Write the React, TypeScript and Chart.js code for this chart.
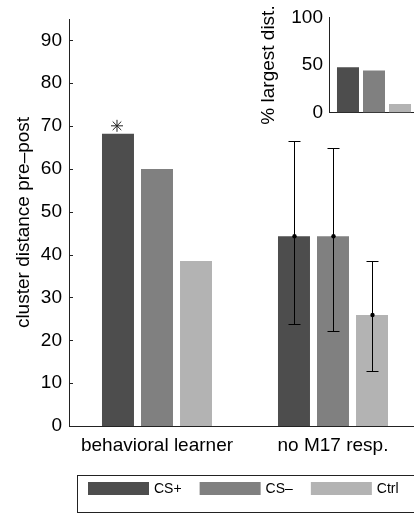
import React, { useEffect, useRef } from 'react';
import { Chart, registerables } from 'chart.js';

Chart.register(...registerables);

const FONT = "'Liberation Sans', Arial, Helvetica, sans-serif";

// ---------- main chart data ----------
const categories = ['behavioral learner', 'no M17 resp.'];
const seriesLabels = ['CS+', 'CS\u2013', 'Ctrl'];
const seriesColors = ['#4d4d4d', '#808080', '#b3b3b3'];

const csPlus = [68.2, 44.3];
const csMinus = [60.0, 44.3];
const ctrl = [38.5, 25.9];

const csPlusLow = [null, 23.7];
const csPlusHigh = [null, 66.6];
const csMinusLow = [null, 22.2];
const csMinusHigh = [null, 65.0];
const ctrlLow = [null, 12.8];
const ctrlHigh = [null, 38.6];

const csPlusStar = [true, false];
const csMinusStar = [false, false];
const ctrlStar = [false, false];

const yTicks = [0, 10, 20, 30, 40, 50, 60, 70, 80, 90];
const yMax = 95;

// ---------- inset data ----------
const insetCategories = [''];
const insetCsPlus = [47.6];
const insetCsMinus = [44.2];
const insetCtrl = [9.0];
const insetTicks = [0, 50, 100];

const errorBarsPlugin = {
  id: 'errorBars',
  afterDatasetsDraw(chart: any) {
    const { ctx } = chart;
    const yScale = chart.scales.y;
    chart.data.datasets.forEach((ds: any, i: number) => {
      const meta = chart.getDatasetMeta(i);
      meta.data.forEach((bar: any, j: number) => {
        const lo = ds.errLow ? ds.errLow[j] : null;
        const hi = ds.errHigh ? ds.errHigh[j] : null;
        ctx.save();
        if (lo != null && hi != null) {
          const x = Math.round(bar.x) + 0.5;
          const yl = Math.round(yScale.getPixelForValue(lo)) + 0.5;
          const yh = Math.round(yScale.getPixelForValue(hi)) + 0.5;
          ctx.strokeStyle = '#000';
          ctx.lineWidth = 1;
          ctx.beginPath();
          ctx.moveTo(x, yh);
          ctx.lineTo(x, yl);
          ctx.moveTo(x - 6, yh);
          ctx.lineTo(x + 6, yh);
          ctx.moveTo(x - 6, yl);
          ctx.lineTo(x + 6, yl);
          ctx.stroke();
          ctx.fillStyle = '#000';
          ctx.beginPath();
          ctx.arc(x, bar.y, 2.2, 0, Math.PI * 2);
          ctx.fill();
        }
        if (ds.star && ds.star[j]) {
          const cx = bar.x - 1;
          const cy = bar.y - 8;
          const r = 6;
          const d = 4.3;
          ctx.strokeStyle = '#222';
          ctx.lineWidth = 1;
          ctx.beginPath();
          ctx.moveTo(cx - r, cy);
          ctx.lineTo(cx + r, cy);
          ctx.moveTo(cx, cy - r);
          ctx.lineTo(cx, cy + r);
          ctx.moveTo(cx - d, cy - d);
          ctx.lineTo(cx + d, cy + d);
          ctx.moveTo(cx - d, cy + d);
          ctx.lineTo(cx + d, cy - d);
          ctx.stroke();
        }
        ctx.restore();
      });
    });
  },
};

const inwardTicksPlugin = {
  id: 'inwardTicks',
  afterDraw(chart: any, _args: any, opts: any) {
    if (!opts || !opts.length) return;
    const { ctx, chartArea } = chart;
    const yScale = chart.scales.y;
    ctx.save();
    ctx.strokeStyle = '#222';
    ctx.lineWidth = 1;
    ctx.beginPath();
    yScale.ticks.forEach((t: any) => {
      const y = Math.round(yScale.getPixelForValue(t.value)) + 0.5;
      ctx.moveTo(chartArea.left, y);
      ctx.lineTo(chartArea.left + opts.length, y);
    });
    ctx.stroke();
    ctx.restore();
  },
};

const boxLegendPlugin = {
  id: 'boxLegend',
  afterDraw(chart: any, _args: any, opts: any) {
    if (!opts || !opts.show) return;
    const { ctx } = chart;
    ctx.save();
    ctx.strokeStyle = '#222';
    ctx.lineWidth = 1;
    ctx.strokeRect(opts.left + 0.5, opts.top + 0.5, 600, opts.bottom - opts.top);
    ctx.font = `${opts.fontSize}px ${FONT}`;
    ctx.textBaseline = 'middle';
    ctx.textAlign = 'left';
    let x = opts.firstX;
    const sy = opts.top + opts.swatchTop;
    chart.data.datasets.forEach((ds: any) => {
      ctx.fillStyle = ds.backgroundColor;
      ctx.fillRect(x, sy, opts.swatchW, opts.swatchH);
      const tx = x + opts.swatchW + opts.textGap;
      ctx.fillStyle = '#000';
      ctx.fillText(ds.label, tx, sy + opts.swatchH / 2 + 0.5);
      x = tx + ctx.measureText(ds.label).width + opts.itemGap;
    });
    ctx.restore();
  },
};

export default function App() {
  const mainRef = useRef<HTMLCanvasElement>(null);
  const insetRef = useRef<HTMLCanvasElement>(null);

  useEffect(() => {
    const font19 = { family: FONT, size: 19 };
    const mainChart = new Chart(mainRef.current as HTMLCanvasElement, {
      type: 'bar',
      data: {
        labels: categories,
        datasets: [
          { label: seriesLabels[0], data: csPlus, backgroundColor: seriesColors[0], errLow: csPlusLow, errHigh: csPlusHigh, star: csPlusStar } as any,
          { label: seriesLabels[1], data: csMinus, backgroundColor: seriesColors[1], errLow: csMinusLow, errHigh: csMinusHigh, star: csMinusStar } as any,
          { label: seriesLabels[2], data: ctrl, backgroundColor: seriesColors[2], errLow: ctrlLow, errHigh: ctrlHigh, star: ctrlStar } as any,
        ],
      },
      options: {
        responsive: false,
        animation: false,
        devicePixelRatio: 1,
        categoryPercentage: 0.665,
        barPercentage: 0.82,
        layout: { padding: { left: 0, top: 19, right: 9, bottom: 0 } },
        plugins: {
          legend: { display: false },
          tooltip: { enabled: false },
          inwardTicks: { length: 4 },
          boxLegend: {
            show: true, left: 77, top: 475, bottom: 512, firstX: 88, swatchTop: 7,
            swatchW: 61, swatchH: 13, textGap: 5, itemGap: 18, fontSize: 14,
          },
        } as any,
        scales: {
          x: {
            grid: { display: false, drawTicks: false },
            border: { display: true, color: '#222', width: 1 },
            ticks: { font: font19, color: '#000', padding: 8, maxRotation: 0, autoSkip: false },
            afterFit: (s: any) => { s.height = 87; },
          },
          y: {
            min: 0,
            max: yMax,
            grid: { display: false, drawTicks: false },
            border: { display: true, color: '#222', width: 1 },
            ticks: { font: font19, color: '#000', padding: 7 },
            afterBuildTicks: (s: any) => { s.ticks = yTicks.map((v) => ({ value: v })); },
            afterFit: (s: any) => { s.width = 69; },
            title: {
              display: true,
              text: 'cluster distance pre\u2013post',
              font: font19,
              color: '#000',
              padding: { top: 12, bottom: 0 },
            },
          },
        },
      } as any,
      plugins: [errorBarsPlugin, inwardTicksPlugin, boxLegendPlugin],
    });

    const insetChart = new Chart(insetRef.current as HTMLCanvasElement, {
      type: 'bar',
      data: {
        labels: insetCategories,
        datasets: [
          { label: seriesLabels[0], data: insetCsPlus, backgroundColor: seriesColors[0] },
          { label: seriesLabels[1], data: insetCsMinus, backgroundColor: seriesColors[1] },
          { label: seriesLabels[2], data: insetCtrl, backgroundColor: seriesColors[2] },
        ],
      },
      options: {
        responsive: false,
        animation: false,
        devicePixelRatio: 1,
        categoryPercentage: 0.867,
        barPercentage: 0.846,
        layout: { padding: { left: 0, top: 16, right: 11, bottom: 0 } },
        plugins: { legend: { display: false }, tooltip: { enabled: false } },
        scales: {
          x: {
            grid: { display: false, drawTicks: false },
            border: { display: true, color: '#222', width: 1 },
            ticks: { display: false },
            afterFit: (s: any) => { s.height = 17; },
          },
          y: {
            min: 0,
            max: 100,
            grid: { display: false, drawTicks: false },
            border: { display: true, color: '#222', width: 1 },
            ticks: { font: font19, color: '#000', padding: 6 },
            afterBuildTicks: (s: any) => { s.ticks = insetTicks.map((v) => ({ value: v })); },
            afterFit: (s: any) => { s.width = 79; },
            title: {
              display: true,
              text: '% largest dist.',
              font: font19,
              color: '#000',
              padding: { top: 7, bottom: 0 },
            },
          },
        },
      } as any,
    });

    return () => {
      mainChart.destroy();
      insetChart.destroy();
    };
  }, []);

  return (
    <div style={{ position: 'fixed', left: 0, top: 0, width: 414, height: 513, overflow: 'hidden', background: '#fff' }}>
      <canvas ref={mainRef} width={430} height={513} style={{ position: 'absolute', left: 0, top: 0, width: 430, height: 513 }} />
      <canvas ref={insetRef} width={180} height={130} style={{ position: 'absolute', left: 250, top: 0, width: 180, height: 130 }} />
    </div>
  );
}
